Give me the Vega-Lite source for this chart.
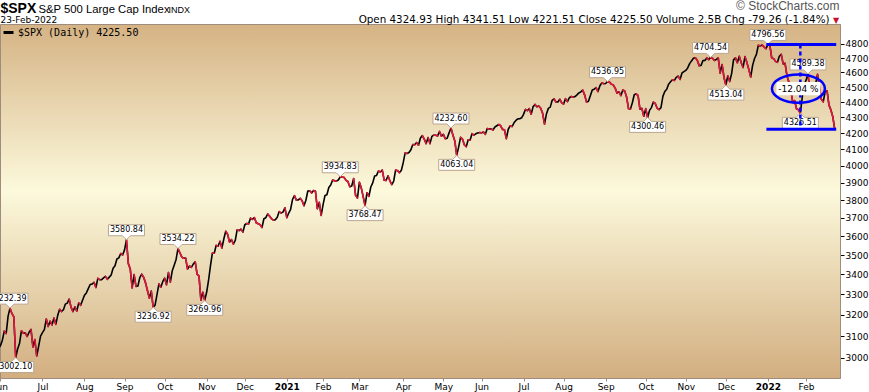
{
  "$schema": "https://vega.github.io/schema/vega-lite/v6.json",
  "width": 840,
  "height": 354,
  "autosize": {"type": "none"},
  "padding": {"left": 0, "top": 24, "right": 29, "bottom": 14},
  "background": "#ffffff",
  "config": {
    "view": {
      "fill": {
        "gradient": "linear",
        "x1": 0, "y1": 0, "x2": 0, "y2": 1,
        "stops": [
          {"offset": 0, "color": "#d5b384"},
          {"offset": 0.47, "color": "#fcf9dc"},
          {"offset": 1, "color": "#d2ae80"}
        ]
      },
      "stroke": "#a08c7c",
      "strokeWidth": 1
    },
    "axis": {"grid": false, "labelFont": "DejaVu Sans", "labelFontSize": 9, "labelColor": "#000000"},
    "legend": {"padding": 0}
  },
  "datasets": {
    "spx": [
      {"d":"2020-05-29","c":3044},
      {"d":"2020-06-01","c":3056},{"d":"2020-06-02","c":3081},{"d":"2020-06-03","c":3123},{"d":"2020-06-04","c":3112},{"d":"2020-06-05","c":3194},{"d":"2020-06-08","c":3232},{"d":"2020-06-09","c":3207},{"d":"2020-06-10","c":3190},{"d":"2020-06-11","c":3002},{"d":"2020-06-12","c":3041},{"d":"2020-06-15","c":3067},{"d":"2020-06-16","c":3125},{"d":"2020-06-17","c":3113},{"d":"2020-06-18","c":3115},{"d":"2020-06-19","c":3098},{"d":"2020-06-22","c":3118},{"d":"2020-06-23","c":3131},{"d":"2020-06-24","c":3050},{"d":"2020-06-25","c":3084},{"d":"2020-06-26","c":3009},{"d":"2020-06-29","c":3053},{"d":"2020-06-30","c":3100},
      {"d":"2020-07-01","c":3116},{"d":"2020-07-02","c":3130},{"d":"2020-07-06","c":3180},{"d":"2020-07-07","c":3145},{"d":"2020-07-08","c":3170},{"d":"2020-07-09","c":3152},{"d":"2020-07-10","c":3185},{"d":"2020-07-13","c":3155},{"d":"2020-07-14","c":3198},{"d":"2020-07-15","c":3227},{"d":"2020-07-16","c":3216},{"d":"2020-07-17","c":3225},{"d":"2020-07-20","c":3252},{"d":"2020-07-21","c":3257},{"d":"2020-07-22","c":3276},{"d":"2020-07-23","c":3236},{"d":"2020-07-24","c":3216},{"d":"2020-07-27","c":3239},{"d":"2020-07-28","c":3218},{"d":"2020-07-29","c":3258},{"d":"2020-07-30","c":3246},{"d":"2020-07-31","c":3271},
      {"d":"2020-08-03","c":3295},{"d":"2020-08-04","c":3307},{"d":"2020-08-05","c":3328},{"d":"2020-08-06","c":3349},{"d":"2020-08-07","c":3351},{"d":"2020-08-10","c":3360},{"d":"2020-08-11","c":3334},{"d":"2020-08-12","c":3380},{"d":"2020-08-13","c":3373},{"d":"2020-08-14","c":3373},{"d":"2020-08-17","c":3382},{"d":"2020-08-18","c":3390},{"d":"2020-08-19","c":3375},{"d":"2020-08-20","c":3386},{"d":"2020-08-21","c":3397},{"d":"2020-08-24","c":3431},{"d":"2020-08-25","c":3444},{"d":"2020-08-26","c":3479},{"d":"2020-08-27","c":3485},{"d":"2020-08-28","c":3508},{"d":"2020-08-31","c":3500},
      {"d":"2020-09-01","c":3527},{"d":"2020-09-02","c":3581},{"d":"2020-09-03","c":3455},{"d":"2020-09-04","c":3427},{"d":"2020-09-08","c":3332},{"d":"2020-09-09","c":3399},{"d":"2020-09-10","c":3339},{"d":"2020-09-11","c":3341},{"d":"2020-09-14","c":3384},{"d":"2020-09-15","c":3401},{"d":"2020-09-16","c":3385},{"d":"2020-09-17","c":3357},{"d":"2020-09-18","c":3319},{"d":"2020-09-21","c":3281},{"d":"2020-09-22","c":3316},{"d":"2020-09-23","c":3237},{"d":"2020-09-24","c":3247},{"d":"2020-09-25","c":3298},{"d":"2020-09-28","c":3352},{"d":"2020-09-29","c":3335},{"d":"2020-09-30","c":3363},
      {"d":"2020-10-01","c":3381},{"d":"2020-10-02","c":3348},{"d":"2020-10-05","c":3409},{"d":"2020-10-06","c":3361},{"d":"2020-10-07","c":3419},{"d":"2020-10-08","c":3447},{"d":"2020-10-09","c":3477},{"d":"2020-10-12","c":3534},{"d":"2020-10-13","c":3512},{"d":"2020-10-14","c":3489},{"d":"2020-10-15","c":3483},{"d":"2020-10-16","c":3484},{"d":"2020-10-19","c":3427},{"d":"2020-10-20","c":3443},{"d":"2020-10-21","c":3436},{"d":"2020-10-22","c":3453},{"d":"2020-10-23","c":3465},{"d":"2020-10-26","c":3401},{"d":"2020-10-27","c":3391},{"d":"2020-10-28","c":3271},{"d":"2020-10-29","c":3310},{"d":"2020-10-30","c":3270},
      {"d":"2020-11-02","c":3310},{"d":"2020-11-03","c":3369},{"d":"2020-11-04","c":3443},{"d":"2020-11-05","c":3510},{"d":"2020-11-06","c":3509},{"d":"2020-11-09","c":3551},{"d":"2020-11-10","c":3546},{"d":"2020-11-11","c":3573},{"d":"2020-11-12","c":3537},{"d":"2020-11-13","c":3585},{"d":"2020-11-16","c":3627},{"d":"2020-11-17","c":3610},{"d":"2020-11-18","c":3568},{"d":"2020-11-19","c":3582},{"d":"2020-11-20","c":3558},{"d":"2020-11-23","c":3578},{"d":"2020-11-24","c":3635},{"d":"2020-11-25","c":3630},{"d":"2020-11-27","c":3638},{"d":"2020-11-30","c":3622},
      {"d":"2020-12-01","c":3662},{"d":"2020-12-02","c":3669},{"d":"2020-12-03","c":3667},{"d":"2020-12-04","c":3699},{"d":"2020-12-07","c":3692},{"d":"2020-12-08","c":3702},{"d":"2020-12-09","c":3673},{"d":"2020-12-10","c":3668},{"d":"2020-12-11","c":3663},{"d":"2020-12-14","c":3647},{"d":"2020-12-15","c":3695},{"d":"2020-12-16","c":3701},{"d":"2020-12-17","c":3722},{"d":"2020-12-18","c":3709},{"d":"2020-12-21","c":3695},{"d":"2020-12-22","c":3687},{"d":"2020-12-23","c":3690},{"d":"2020-12-24","c":3703},{"d":"2020-12-28","c":3735},{"d":"2020-12-29","c":3727},{"d":"2020-12-30","c":3732},{"d":"2020-12-31","c":3756},
      {"d":"2021-01-04","c":3701},{"d":"2021-01-05","c":3727},{"d":"2021-01-06","c":3748},{"d":"2021-01-07","c":3804},{"d":"2021-01-08","c":3825},{"d":"2021-01-11","c":3800},{"d":"2021-01-12","c":3801},{"d":"2021-01-13","c":3810},{"d":"2021-01-14","c":3796},{"d":"2021-01-15","c":3768},{"d":"2021-01-19","c":3799},{"d":"2021-01-20","c":3852},{"d":"2021-01-21","c":3853},{"d":"2021-01-22","c":3841},{"d":"2021-01-25","c":3855},{"d":"2021-01-26","c":3850},{"d":"2021-01-27","c":3751},{"d":"2021-01-28","c":3787},{"d":"2021-01-29","c":3714},
      {"d":"2021-02-01","c":3774},{"d":"2021-02-02","c":3826},{"d":"2021-02-03","c":3830},{"d":"2021-02-04","c":3872},{"d":"2021-02-05","c":3887},{"d":"2021-02-08","c":3916},{"d":"2021-02-09","c":3911},{"d":"2021-02-10","c":3910},{"d":"2021-02-11","c":3916},{"d":"2021-02-12","c":3935},{"d":"2021-02-16","c":3933},{"d":"2021-02-17","c":3931},{"d":"2021-02-18","c":3914},{"d":"2021-02-19","c":3907},{"d":"2021-02-22","c":3877},{"d":"2021-02-23","c":3881},{"d":"2021-02-24","c":3925},{"d":"2021-02-25","c":3829},{"d":"2021-02-26","c":3811},
      {"d":"2021-03-01","c":3902},{"d":"2021-03-02","c":3870},{"d":"2021-03-03","c":3820},{"d":"2021-03-04","c":3768},{"d":"2021-03-05","c":3842},{"d":"2021-03-08","c":3821},{"d":"2021-03-09","c":3875},{"d":"2021-03-10","c":3899},{"d":"2021-03-11","c":3939},{"d":"2021-03-12","c":3943},{"d":"2021-03-15","c":3969},{"d":"2021-03-16","c":3963},{"d":"2021-03-17","c":3974},{"d":"2021-03-18","c":3915},{"d":"2021-03-19","c":3913},{"d":"2021-03-22","c":3941},{"d":"2021-03-23","c":3911},{"d":"2021-03-24","c":3889},{"d":"2021-03-25","c":3910},{"d":"2021-03-26","c":3975},{"d":"2021-03-29","c":3971},{"d":"2021-03-30","c":3959},{"d":"2021-03-31","c":3973},
      {"d":"2021-04-01","c":4020},{"d":"2021-04-05","c":4078},{"d":"2021-04-06","c":4074},{"d":"2021-04-07","c":4080},{"d":"2021-04-08","c":4097},{"d":"2021-04-09","c":4129},{"d":"2021-04-12","c":4128},{"d":"2021-04-13","c":4142},{"d":"2021-04-14","c":4125},{"d":"2021-04-15","c":4170},{"d":"2021-04-16","c":4185},{"d":"2021-04-19","c":4163},{"d":"2021-04-20","c":4135},{"d":"2021-04-21","c":4173},{"d":"2021-04-22","c":4135},{"d":"2021-04-23","c":4180},{"d":"2021-04-26","c":4188},{"d":"2021-04-27","c":4187},{"d":"2021-04-28","c":4183},{"d":"2021-04-29","c":4211},{"d":"2021-04-30","c":4181},
      {"d":"2021-05-03","c":4193},{"d":"2021-05-04","c":4165},{"d":"2021-05-05","c":4168},{"d":"2021-05-06","c":4202},{"d":"2021-05-07","c":4233},{"d":"2021-05-10","c":4188},{"d":"2021-05-11","c":4152},{"d":"2021-05-12","c":4063},{"d":"2021-05-13","c":4113},{"d":"2021-05-14","c":4174},{"d":"2021-05-17","c":4163},{"d":"2021-05-18","c":4128},{"d":"2021-05-19","c":4116},{"d":"2021-05-20","c":4159},{"d":"2021-05-21","c":4156},{"d":"2021-05-24","c":4197},{"d":"2021-05-25","c":4188},{"d":"2021-05-26","c":4196},{"d":"2021-05-27","c":4201},{"d":"2021-05-28","c":4204},
      {"d":"2021-06-01","c":4202},{"d":"2021-06-02","c":4208},{"d":"2021-06-03","c":4193},{"d":"2021-06-04","c":4230},{"d":"2021-06-07","c":4227},{"d":"2021-06-08","c":4227},{"d":"2021-06-09","c":4220},{"d":"2021-06-10","c":4239},{"d":"2021-06-11","c":4247},{"d":"2021-06-14","c":4255},{"d":"2021-06-15","c":4247},{"d":"2021-06-16","c":4224},{"d":"2021-06-17","c":4222},{"d":"2021-06-18","c":4166},{"d":"2021-06-21","c":4225},{"d":"2021-06-22","c":4246},{"d":"2021-06-23","c":4242},{"d":"2021-06-24","c":4266},{"d":"2021-06-25","c":4281},{"d":"2021-06-28","c":4291},{"d":"2021-06-29","c":4292},{"d":"2021-06-30","c":4298},
      {"d":"2021-07-01","c":4320},{"d":"2021-07-02","c":4352},{"d":"2021-07-06","c":4344},{"d":"2021-07-07","c":4358},{"d":"2021-07-08","c":4321},{"d":"2021-07-09","c":4370},{"d":"2021-07-12","c":4385},{"d":"2021-07-13","c":4369},{"d":"2021-07-14","c":4374},{"d":"2021-07-15","c":4360},{"d":"2021-07-16","c":4327},{"d":"2021-07-19","c":4258},{"d":"2021-07-20","c":4323},{"d":"2021-07-21","c":4359},{"d":"2021-07-22","c":4367},{"d":"2021-07-23","c":4412},{"d":"2021-07-26","c":4422},{"d":"2021-07-27","c":4401},{"d":"2021-07-28","c":4401},{"d":"2021-07-29","c":4419},{"d":"2021-07-30","c":4395},
      {"d":"2021-08-02","c":4387},{"d":"2021-08-03","c":4423},{"d":"2021-08-04","c":4403},{"d":"2021-08-05","c":4429},{"d":"2021-08-06","c":4437},{"d":"2021-08-09","c":4432},{"d":"2021-08-10","c":4437},{"d":"2021-08-11","c":4448},{"d":"2021-08-12","c":4461},{"d":"2021-08-13","c":4468},{"d":"2021-08-16","c":4480},{"d":"2021-08-17","c":4448},{"d":"2021-08-18","c":4400},{"d":"2021-08-19","c":4406},{"d":"2021-08-20","c":4442},{"d":"2021-08-23","c":4480},{"d":"2021-08-24","c":4486},{"d":"2021-08-25","c":4496},{"d":"2021-08-26","c":4470},{"d":"2021-08-27","c":4509},{"d":"2021-08-30","c":4529},{"d":"2021-08-31","c":4523},
      {"d":"2021-09-01","c":4524},{"d":"2021-09-02","c":4537},{"d":"2021-09-03","c":4535},{"d":"2021-09-07","c":4520},{"d":"2021-09-08","c":4514},{"d":"2021-09-09","c":4493},{"d":"2021-09-10","c":4459},{"d":"2021-09-13","c":4469},{"d":"2021-09-14","c":4443},{"d":"2021-09-15","c":4481},{"d":"2021-09-16","c":4474},{"d":"2021-09-17","c":4433},{"d":"2021-09-20","c":4358},{"d":"2021-09-21","c":4354},{"d":"2021-09-22","c":4396},{"d":"2021-09-23","c":4449},{"d":"2021-09-24","c":4455},{"d":"2021-09-27","c":4443},{"d":"2021-09-28","c":4353},{"d":"2021-09-29","c":4359},{"d":"2021-09-30","c":4308},
      {"d":"2021-10-01","c":4357},{"d":"2021-10-04","c":4300},{"d":"2021-10-05","c":4346},{"d":"2021-10-06","c":4364},{"d":"2021-10-07","c":4400},{"d":"2021-10-08","c":4391},{"d":"2021-10-11","c":4361},{"d":"2021-10-12","c":4351},{"d":"2021-10-13","c":4364},{"d":"2021-10-14","c":4438},{"d":"2021-10-15","c":4471},{"d":"2021-10-18","c":4486},{"d":"2021-10-19","c":4520},{"d":"2021-10-20","c":4536},{"d":"2021-10-21","c":4550},{"d":"2021-10-22","c":4545},{"d":"2021-10-25","c":4566},{"d":"2021-10-26","c":4575},{"d":"2021-10-27","c":4552},{"d":"2021-10-28","c":4596},{"d":"2021-10-29","c":4605},
      {"d":"2021-11-01","c":4614},{"d":"2021-11-02","c":4631},{"d":"2021-11-03","c":4661},{"d":"2021-11-04","c":4680},{"d":"2021-11-05","c":4698},{"d":"2021-11-08","c":4702},{"d":"2021-11-09","c":4685},{"d":"2021-11-10","c":4647},{"d":"2021-11-11","c":4649},{"d":"2021-11-12","c":4683},{"d":"2021-11-15","c":4683},{"d":"2021-11-16","c":4701},{"d":"2021-11-17","c":4689},{"d":"2021-11-18","c":4705},{"d":"2021-11-19","c":4698},{"d":"2021-11-22","c":4683},{"d":"2021-11-23","c":4691},{"d":"2021-11-24","c":4701},{"d":"2021-11-26","c":4595},{"d":"2021-11-29","c":4655},{"d":"2021-11-30","c":4567},
      {"d":"2021-12-01","c":4513},{"d":"2021-12-02","c":4577},{"d":"2021-12-03","c":4538},{"d":"2021-12-06","c":4592},{"d":"2021-12-07","c":4687},{"d":"2021-12-08","c":4701},{"d":"2021-12-09","c":4667},{"d":"2021-12-10","c":4712},{"d":"2021-12-13","c":4669},{"d":"2021-12-14","c":4634},{"d":"2021-12-15","c":4710},{"d":"2021-12-16","c":4669},{"d":"2021-12-17","c":4621},{"d":"2021-12-20","c":4568},{"d":"2021-12-21","c":4649},{"d":"2021-12-22","c":4697},{"d":"2021-12-23","c":4726},{"d":"2021-12-27","c":4791},{"d":"2021-12-28","c":4786},{"d":"2021-12-29","c":4793},{"d":"2021-12-30","c":4779},{"d":"2021-12-31","c":4766},
      {"d":"2022-01-03","c":4797},{"d":"2022-01-04","c":4794},{"d":"2022-01-05","c":4701},{"d":"2022-01-06","c":4696},{"d":"2022-01-07","c":4677},{"d":"2022-01-10","c":4670},{"d":"2022-01-11","c":4713},{"d":"2022-01-12","c":4726},{"d":"2022-01-13","c":4659},{"d":"2022-01-14","c":4663},{"d":"2022-01-18","c":4577},{"d":"2022-01-19","c":4533},{"d":"2022-01-20","c":4483},{"d":"2022-01-21","c":4398},{"d":"2022-01-24","c":4410},{"d":"2022-01-25","c":4356},{"d":"2022-01-26","c":4350},{"d":"2022-01-27","c":4327},{"d":"2022-01-28","c":4432},{"d":"2022-01-31","c":4516},
      {"d":"2022-02-01","c":4547},{"d":"2022-02-02","c":4589},{"d":"2022-02-03","c":4477},{"d":"2022-02-04","c":4501},{"d":"2022-02-07","c":4484},{"d":"2022-02-08","c":4522},{"d":"2022-02-09","c":4587},{"d":"2022-02-10","c":4504},{"d":"2022-02-11","c":4419},{"d":"2022-02-14","c":4402},{"d":"2022-02-15","c":4471},{"d":"2022-02-16","c":4475},{"d":"2022-02-17","c":4380},{"d":"2022-02-18","c":4349},{"d":"2022-02-22","c":4305},{"d":"2022-02-23","c":4226}
    ],
    "labels": [
      {"d":"2020-06-08","v":3232.39,"pos":"above"},
      {"d":"2020-06-11","v":3002.10,"pos":"below"},
      {"d":"2020-09-02","v":3580.84,"pos":"above"},
      {"d":"2020-09-23","v":3236.92,"pos":"below"},
      {"d":"2020-10-12","v":3534.22,"pos":"above"},
      {"d":"2020-10-30","v":3269.96,"pos":"below"},
      {"d":"2021-02-12","v":3934.83,"pos":"above"},
      {"d":"2021-03-04","v":3768.47,"pos":"below"},
      {"d":"2021-05-07","v":4232.60,"pos":"above"},
      {"d":"2021-05-12","v":4063.04,"pos":"below"},
      {"d":"2021-09-02","v":4536.95,"pos":"above"},
      {"d":"2021-10-04","v":4300.46,"pos":"below"},
      {"d":"2021-11-18","v":4704.54,"pos":"above"},
      {"d":"2021-12-01","v":4513.04,"pos":"below"},
      {"d":"2022-01-03","v":4796.56,"pos":"above"},
      {"d":"2022-01-27","v":4326.51,"pos":"below"},
      {"d":"2022-02-02","v":4589.38,"pos":"above"}
    ],
    "hlines": [
      {"d1":"2022-01-03","d2":"2022-02-23","v":4796.56},
      {"d1":"2022-01-03","d2":"2022-02-23","v":4225.50}
    ],
    "vline": [{"d":"2022-01-27","v1":4796.56,"v2":4225.50}],
    "pct": [{"d":"2022-01-26","v":4490,"t":"-12.04 %"}]
  },
  "layer": [
    {
      "data": {"name": "spx"},
      "mark": {"type": "line", "strokeWidth": 1.6, "strokeJoin": "round", "clip": true},
      "encoding": {
        "x": {
          "field": "d", "type": "ordinal",
          "scale": {"type": "point", "range": [-1.45, 834.7], "padding": 0},
          "axis": {
            "orient": "bottom",
            "values": ["2020-06-01","2020-07-01","2020-08-03","2020-09-01","2020-10-01","2020-11-02","2020-12-01","2021-01-04","2021-02-01","2021-03-01","2021-04-01","2021-05-03","2021-06-01","2021-07-01","2021-08-02","2021-09-01","2021-10-01","2021-11-01","2021-12-01","2022-01-03","2022-02-01"],
            "labelExpr": "substring(datum.value,5,7) == '01' ? substring(datum.value,0,4) : ['Jan','Feb','Mar','Apr','May','Jun','Jul','Aug','Sep','Oct','Nov','Dec'][toNumber(substring(datum.value,5,7))-1]",
            "labelFontWeight": {"condition": {"test": "substring(datum.value,5,7) == '01'", "value": "bold"}, "value": "normal"},
            "labelAngle": 0,
            "labelAlign": "center",
            "labelBaseline": "top",
            "labelPadding": 1,
            "labelOverlap": false,
            "labelColor": "#000000",
            "ticks": true,
            "tickSize": 3,
            "tickColor": "#a08c7c",
            "domain": false,
            "title": null,
            "zindex": 2
          }
        },
        "y": {
          "field": "c", "type": "quantitative",
          "scale": {"type": "log", "domain": [2911.5, 4945.8], "nice": false, "zero": false},
          "axis": {
            "orient": "right",
            "values": [3000,3100,3200,3300,3400,3500,3600,3700,3800,3900,4000,4100,4200,4300,4400,4500,4600,4700,4800],
            "format": "d",
            "tickSize": 4,
            "tickColor": "#000000",
            "labelPadding": 1,
            "labelBaseline": "middle",
            "domain": true,
            "domainColor": "#a08c7c",
            "title": "Open 4324.93  High 4341.51  Low 4221.51  Close 4225.50  Volume 2.5B  Chg -79.26 (-1.84%)",
            "titleAngle": 0,
            "titleX": -11,
            "titleY": -2,
            "titleAlign": "right",
            "titleBaseline": "alphabetic",
            "titleFont": "DejaVu Sans",
            "titleFontSize": 10.35,
            "titleFontWeight": "normal",
            "titleColor": "#000000"
          }
        },
        "color": {
          "datum": "$SPX (Daily) 4225.50",
          "scale": {"range": ["#000000"]},
          "legend": {
            "orient": "top-left",
            "offset": 2,
            "title": null,
            "symbolType": "stroke",
            "symbolStrokeWidth": 3,
            "symbolSize": 100,
            "labelFont": "DejaVu Sans Mono",
            "labelFontSize": 10,
            "labelColor": "#000000",
            "labelOffset": 3
          }
        }
      }
    },
    {
      "data": {"name": "spx"},
      "transform": [
        {"window": [{"op": "lag", "field": "c", "as": "pc"}, {"op": "lag", "field": "d", "as": "pd"}], "sort": [{"field": "d", "order": "ascending"}]},
        {"filter": "datum.pd != null && datum.c < datum.pc"}
      ],
      "mark": {"type": "rule", "color": "#e3173e", "strokeWidth": 1.6, "strokeCap": "round", "clip": true},
      "encoding": {
        "x": {"field": "pd", "type": "ordinal", "axis": null},
        "x2": {"field": "d"},
        "y": {
          "field": "pc", "type": "quantitative",
          "axis": {
            "orient": "left", "labels": false, "ticks": false, "domain": false, "grid": false,
            "title": "S&P 500 Large Cap Index",
            "titleAngle": 0, "titleX": 38, "titleY": -12, "titleAlign": "left", "titleBaseline": "alphabetic",
            "titleFont": "Liberation Sans", "titleFontSize": 11.3, "titleFontWeight": "normal", "titleColor": "#000000"
          }
        },
        "y2": {"field": "c"}
      }
    },
    {
      "data": {"name": "labels"},
      "mark": {"type": "point", "filled": true, "fill": "#ffffff", "stroke": "#bba690", "strokeWidth": 1, "opacity": 1, "size": 1296},
      "encoding": {
        "x": {"field": "d", "type": "ordinal", "axis": null},
        "y": {
          "field": "v", "type": "quantitative",
          "axis": {
            "orient": "left", "labels": false, "ticks": false, "domain": false, "grid": false,
            "title": "▼",
            "titleAngle": 0, "titleX": 835.5, "titleY": -2, "titleAlign": "center", "titleBaseline": "alphabetic",
            "titleFont": "DejaVu Sans", "titleFontSize": 8, "titleFontWeight": "normal", "titleColor": "#c8102e"
          }
        },
        "shape": {
          "field": "pos", "type": "nominal",
          "scale": {"domain": ["above", "below"], "range": ["M-1,-0.833L1,-0.833L1,-0.222L0.222,-0.222L0,0L-0.222,-0.222L-1,-0.222Z", "M-1,0.833L1,0.833L1,0.222L0.222,0.222L0,0L-0.222,0.222L-1,0.222Z"]},
          "legend": null
        }
      }
    },
    {
      "data": {"name": "labels"},
      "transform": [{"filter": "datum.pos == 'above'"}],
      "mark": {"type": "text", "font": "DejaVu Sans", "fontSize": 8, "baseline": "middle", "align": "center", "dy": -9.5, "color": "#000000"},
      "encoding": {
        "x": {"field": "d", "type": "ordinal", "axis": null},
        "y": {
          "field": "v", "type": "quantitative",
          "axis": {
            "orient": "left", "labels": false, "ticks": false, "domain": false, "grid": false,
            "title": "$SPX",
            "titleAngle": 0, "titleX": 0, "titleY": -12, "titleAlign": "left", "titleBaseline": "alphabetic",
            "titleFont": "Liberation Sans", "titleFontSize": 14, "titleFontWeight": "bold", "titleColor": "#000000"
          }
        },
        "text": {"field": "v", "type": "quantitative", "format": ".2f"}
      }
    },
    {
      "data": {"name": "labels"},
      "transform": [{"filter": "datum.pos == 'below'"}],
      "mark": {"type": "text", "font": "DejaVu Sans", "fontSize": 8, "baseline": "middle", "align": "center", "dy": 9.5, "color": "#000000"},
      "encoding": {
        "x": {"field": "d", "type": "ordinal", "axis": null},
        "y": {
          "field": "v", "type": "quantitative",
          "axis": {
            "orient": "left", "labels": false, "ticks": false, "domain": false, "grid": false,
            "title": "23-Feb-2022",
            "titleAngle": 0, "titleX": 0, "titleY": -2, "titleAlign": "left", "titleBaseline": "alphabetic",
            "titleFont": "DejaVu Sans", "titleFontSize": 9, "titleFontWeight": "normal", "titleColor": "#000000"
          }
        },
        "text": {"field": "v", "type": "quantitative", "format": ".2f"}
      }
    },
    {
      "data": {"name": "hlines"},
      "mark": {"type": "rule", "color": "#0000ff", "strokeWidth": 3, "strokeCap": "square"},
      "encoding": {
        "x": {"field": "d1", "type": "ordinal", "axis": null},
        "x2": {"field": "d2"},
        "y": {
          "field": "v", "type": "quantitative",
          "axis": {
            "orient": "left", "labels": false, "ticks": false, "domain": false, "grid": false,
            "title": "INDX",
            "titleAngle": 0, "titleX": 168, "titleY": -12, "titleAlign": "left", "titleBaseline": "alphabetic",
            "titleFont": "Liberation Sans", "titleFontSize": 9, "titleFontWeight": "normal", "titleColor": "#000000"
          }
        }
      }
    },
    {
      "data": {"name": "vline"},
      "mark": {"type": "rule", "color": "#0000ff", "strokeWidth": 2.5, "strokeDash": [4, 3]},
      "encoding": {
        "x": {"field": "d", "type": "ordinal", "axis": null},
        "y": {
          "field": "v1", "type": "quantitative",
          "axis": {
            "orient": "left", "labels": false, "ticks": false, "domain": false, "grid": false,
            "title": "© StockCharts.com",
            "titleAngle": 0, "titleX": 839, "titleY": -14.5, "titleAlign": "right", "titleBaseline": "alphabetic",
            "titleFont": "Liberation Sans", "titleFontSize": 12, "titleFontWeight": "normal", "titleColor": "#555555"
          }
        },
        "y2": {"field": "v2"}
      }
    },
    {
      "data": {"name": "pct"},
      "mark": {"type": "point", "shape": "M-1,-0.3L1,-0.3L1,0.3L-1,0.3Z", "filled": true, "fill": "#ffffff", "strokeWidth": 0, "opacity": 1, "size": 1936},
      "encoding": {
        "x": {"field": "d", "type": "ordinal", "axis": null},
        "y": {"field": "v", "type": "quantitative", "axis": null}
      }
    },
    {
      "data": {"name": "pct"},
      "mark": {"type": "point", "shape": "M-1,0A1,0.53 0 1,1 1,0A1,0.53 0 1,1 -1,0Z", "filled": false, "stroke": "#0000ff", "strokeWidth": 2.5, "opacity": 1, "size": 2809},
      "encoding": {
        "x": {"field": "d", "type": "ordinal", "axis": null},
        "y": {"field": "v", "type": "quantitative", "axis": null}
      }
    },
    {
      "data": {"name": "pct"},
      "mark": {"type": "text", "font": "DejaVu Sans", "fontSize": 9, "baseline": "middle", "align": "center", "color": "#000000"},
      "encoding": {
        "x": {"field": "d", "type": "ordinal", "axis": null},
        "y": {"field": "v", "type": "quantitative", "axis": null},
        "text": {"field": "t"}
      }
    }
  ],
  "resolve": {"axis": {"x": "independent", "y": "independent"}}
}
